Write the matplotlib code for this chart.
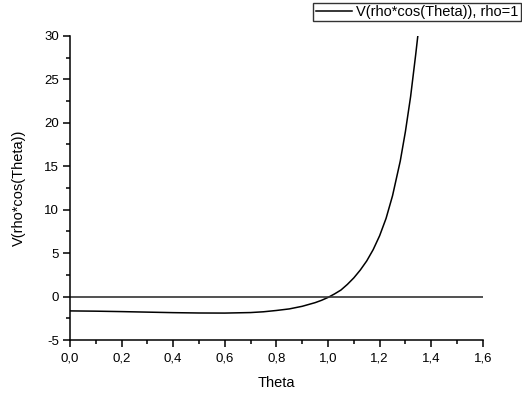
import numpy as np
import matplotlib.pyplot as plt
from matplotlib.ticker import MultipleLocator, FuncFormatter

# values
theta = [0.0, 0.1, 0.2, 0.3, 0.4, 0.5, 0.6, 0.7, 0.75, 0.8, 0.85, 0.9, 0.95,
         0.975, 1.0, 1.025, 1.05, 1.075, 1.1, 1.125, 1.15, 1.175, 1.2, 1.225,
         1.25, 1.28, 1.3, 1.32, 1.34, 1.348]
v = [-1.65, -1.68, -1.73, -1.79, -1.85, -1.89, -1.9, -1.84, -1.75, -1.6, -1.42,
     -1.12, -0.7, -0.43, -0.1, 0.3, 0.75, 1.4, 2.15, 3.05, 4.1, 5.4, 7.0, 9.0,
     11.6, 15.6, 19.0, 23.0, 27.9, 30.0]
zero_x = [0.0, 1.6]
zero_y = [0.0, 0.0]

plt.rcParams['font.family'] = ['Liberation Sans', 'DejaVu Sans']

fig = plt.figure(figsize=(5.22, 3.94), dpi=100, facecolor='w')
ax = fig.add_axes([0.134, 0.137, 0.791, 0.772])

line, = ax.plot(theta, v, color='black', lw=1.1, label='V(rho*cos(Theta)), rho=1')
ax.plot(zero_x, zero_y, color='#333333', lw=1.2)

ax.set_xlim(0, 1.6)
ax.set_ylim(-5, 30)
ax.xaxis.set_major_locator(MultipleLocator(0.2))
ax.xaxis.set_minor_locator(MultipleLocator(0.1))
ax.yaxis.set_major_locator(MultipleLocator(5))
ax.yaxis.set_minor_locator(MultipleLocator(2.5))
ax.xaxis.set_major_formatter(FuncFormatter(lambda x, p: ('%.1f' % x).replace('.', ',')))
ax.yaxis.set_major_formatter(FuncFormatter(lambda y, p: '%d' % round(y)))

for s in ['top', 'right']:
    ax.spines[s].set_visible(False)
for s in ['left', 'bottom']:
    ax.spines[s].set_linewidth(1.1)

ax.tick_params(which='major', direction='out', length=5, width=1.1, labelsize=9.5)
ax.tick_params(axis='x', which='major', pad=4)
ax.tick_params(axis='y', which='major', pad=3)
ax.tick_params(which='minor', direction='out', length=3, width=1.1)

ax.set_xlabel('Theta', fontsize=10.5, labelpad=8)
ax.set_ylabel('V(rho*cos(Theta))', fontsize=10.5, labelpad=13)

leg = fig.legend(handles=[line], loc='upper right', bbox_to_anchor=(0.998, 0.993),
                 fontsize=10.5, frameon=True, fancybox=False, handlelength=2.5,
                 handletextpad=0.3, borderpad=0.15, borderaxespad=0)
leg.get_frame().set_edgecolor('black')
leg.get_frame().set_linewidth(1.0)

plt.savefig('out.png', dpi=100)
plt.close()
